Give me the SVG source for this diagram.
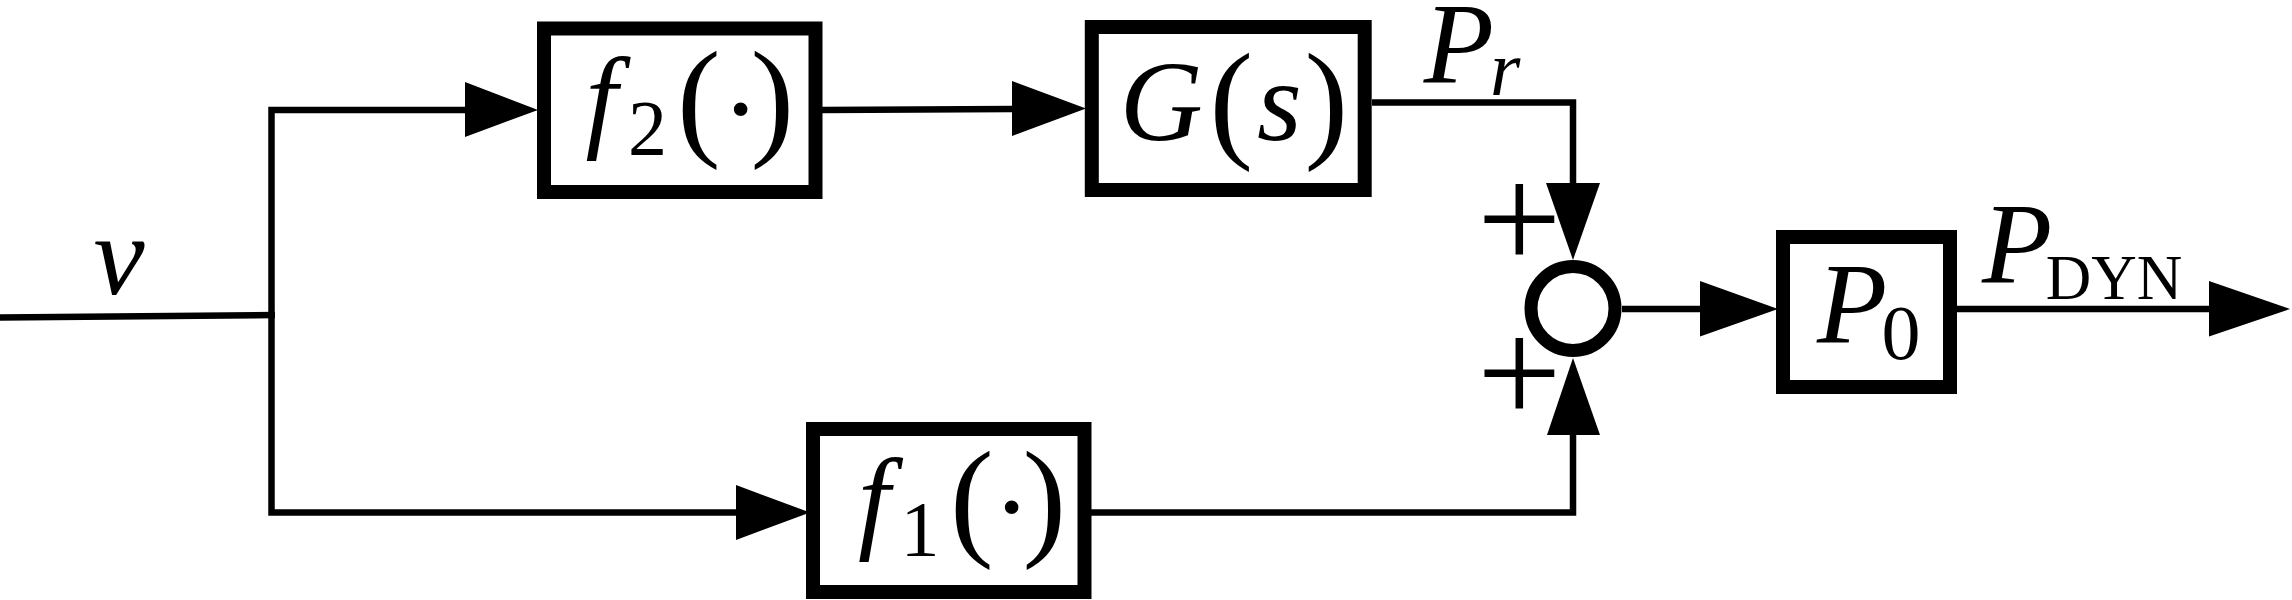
<svg xmlns="http://www.w3.org/2000/svg" width="2292" height="600" viewBox="0 0 2292 600">
<style>
.box{fill:#fff;stroke:#000;stroke-width:14}
.wire{fill:none;stroke:#000;stroke-width:6.5;stroke-linejoin:miter}
.head{fill:#000;stroke:none}
.mi{font-family:"Liberation Serif",serif;font-style:italic;font-size:115px;fill:#000}
.rm{font-family:"Liberation Serif",serif;font-size:131px;fill:#000}
.sub{font-family:"Liberation Serif",serif;font-size:78px;fill:#000}
.subi{font-family:"Liberation Serif",serif;font-style:italic;font-size:78px;fill:#000}
.dot{font-family:"Liberation Serif",serif;font-size:115px;fill:#000}
.plus{font-family:"Liberation Serif",serif;font-size:150px;fill:#000}
.dyn{font-family:"Liberation Serif",serif;font-size:63px;fill:#000}
</style>
<rect width="2292" height="600" fill="#fff"/>
<g id="connectors">
<path class="wire" d="M0 317.5 L275 315"/>
<path class="wire" d="M466 110 H271.5 V512.5 H737"/>
<polygon class="head" points="465,82 538,110 465,137"/>
<polygon class="head" points="736,485 810,512.5 736,540"/>
<path class="wire" d="M822 110 L1013 109"/>
<polygon class="head" points="1012,81 1086,108.5 1012,136"/>
<path class="wire" d="M1372 102.5 H1573 V184"/>
<polygon class="head" points="1546,183 1600,183 1573,260"/>
<path class="wire" d="M1091 512.5 H1573 V434"/>
<polygon class="head" points="1547,435 1600,435 1573,358"/>
<path class="wire" d="M1622 309 H1701"/>
<polygon class="head" points="1700,281 1778,309 1700,336.5"/>
<path class="wire" d="M1957 309 H2210"/>
<polygon class="head" points="2209,281 2290,309 2209,336.5"/>
</g>
<g id="node-f2">
<rect class="box" x="544" y="28.5" width="271.5" height="163.5"/>
<text class="mi" x="585.6" y="137">f</text>
<text class="sub" x="628" y="154">2</text>
<text class="rm" x="677" y="141.6">(</text>
<text class="dot" x="721.6" y="147">·</text>
<text class="rm" x="750.4" y="141.6">)</text>
</g>
<g id="node-G">
<rect class="box" x="1091.8" y="27" width="272.9" height="163"/>
<text class="mi" x="1119.8" y="139.7">G</text>
<text class="rm" x="1209.4" y="143.6">(</text>
<text class="mi" x="1257" y="139.5">s</text>
<text class="rm" x="1304.4" y="143.6">)</text>
</g>
<g id="node-f1">
<rect class="box" x="813" y="429" width="271.5" height="163"/>
<text class="mi" x="858" y="538">f</text>
<text class="sub" x="900.5" y="555">1</text>
<text class="rm" x="950" y="541.6">(</text>
<text class="dot" x="992.6" y="545">·</text>
<text class="rm" x="1022.4" y="541.6">)</text>
</g>
<g id="node-sum">
<circle cx="1573" cy="308.5" r="42" fill="#fff" stroke="#000" stroke-width="13"/>
<text class="plus" x="1477" y="269">+</text>
<text class="plus" x="1477" y="423">+</text>
</g>
<g id="node-P0">
<rect class="box" x="1783" y="237" width="167" height="150"/>
<text class="mi" x="1817" y="342">P</text>
<text class="sub" x="1881.5" y="359">0</text>
</g>
<g id="labels">
<text class="mi" x="93.5" y="293.7">v</text>
<text class="mi" x="1423.7" y="82">P</text>
<text class="subi" x="1490" y="95">r</text>
<text class="mi" x="1982" y="281.7">P</text>
<text class="dyn" x="2045.7" y="299">DYN</text>
</g>
</svg>
